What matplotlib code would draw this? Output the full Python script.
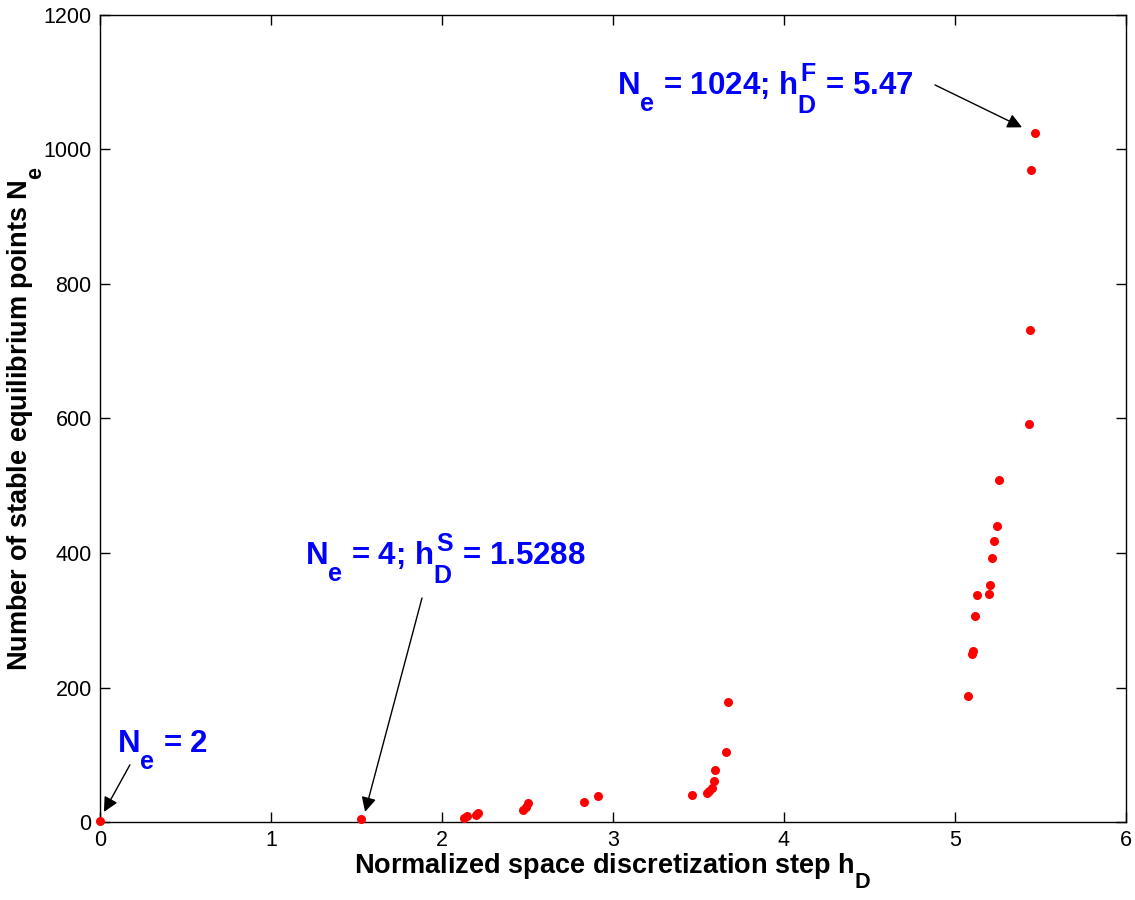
import matplotlib
matplotlib.use("Agg")
import matplotlib.pyplot as plt

try:
    import matplotlib._mathtext as _mt
    _mt.SHRINK_FACTOR = 0.8
    _mt.FontConstantsBase.sub1 = 1.0
    _mt.FontConstantsBase.sub2 = 1.1
    _mt.FontConstantsBase.sup1 = 0.8
except Exception:
    pass

plt.rcParams['font.family'] = ['Liberation Sans', 'DejaVu Sans']
plt.rcParams['mathtext.fontset'] = 'custom'
plt.rcParams['mathtext.rm'] = 'Liberation Sans:bold'
plt.rcParams['mathtext.it'] = 'Liberation Sans:bold'
plt.rcParams['mathtext.bf'] = 'Liberation Sans:bold'

# Data
h_D = [0.0, 1.5288, 2.129, 2.144, 2.199, 2.212, 2.476, 2.491, 2.503, 2.830, 2.912,
       3.462, 3.548, 3.563, 3.577, 3.591, 3.598, 3.661, 3.672,
       5.078, 5.097, 5.107, 5.117, 5.129, 5.199, 5.206, 5.216, 5.226, 5.247, 5.257,
       5.43, 5.44, 5.445, 5.47]
N_e = [2, 4, 6, 9, 10, 13, 18, 23, 28, 30, 38,
       40, 43, 46, 50, 61, 78, 104, 178,
       188, 250, 254, 306, 338, 339, 352, 392, 418, 440, 508,
       592, 732, 970, 1024]

x_ticks = [0, 1, 2, 3, 4, 5, 6]
y_ticks = [0, 200, 400, 600, 800, 1000, 1200]

fig = plt.figure(figsize=(11.35, 9.0), dpi=100)
ax = fig.add_axes([100/1135, 78/900, 1026/1135, 807/900])

ax.plot(h_D, N_e, 'o', color='#ff0000', markersize=6.5, markeredgewidth=0, clip_on=False, zorder=3)

ax.set_xlim(0, 6)
ax.set_ylim(0, 1200)
ax.set_xticks(x_ticks)
ax.set_yticks(y_ticks)
ax.tick_params(direction='in', length=7, width=1, labelsize=15.5, top=True, right=True, pad=6)
for s in ax.spines.values():
    s.set_linewidth(1.0)

ax.set_xlabel(r'Normalized space discretization step $h_D$', fontsize=19.5, fontweight='bold', labelpad=0)
ax.set_ylabel(r'Number of stable equilibrium points $N_e$', fontsize=19.5, fontweight='bold')
ax.yaxis.set_label_coords(-0.055, 0.5)

blue = '#0000ff'
ax.text(3.023, 1081, r'$N_e$ = 1024; $h_D^F$ = 5.47', color=blue, fontsize=22.5,
        fontweight='bold', va='baseline', ha='left')
ax.text(1.199, 382, r'$N_e$ = 4; $h_D^S$ = 1.5288', color=blue, fontsize=22.5,
        fontweight='bold', va='baseline', ha='left')
ax.text(0.099, 104, r'$N_e$ = 2', color=blue, fontsize=22.5,
        fontweight='bold', va='baseline', ha='left')

arrow = dict(arrowstyle='-|>', color='black', lw=1.0, mutation_scale=22,
             shrinkA=0, shrinkB=0)
ax.annotate('', xy=(5.392, 1033), xytext=(4.883, 1096), arrowprops=arrow, annotation_clip=False)
ax.annotate('', xy=(1.55, 15), xytext=(1.883, 333), arrowprops=arrow, annotation_clip=False)
ax.annotate('', xy=(0.023, 15), xytext=(0.175, 85), arrowprops=arrow, annotation_clip=False)

fig.savefig('out.png', dpi=100)
